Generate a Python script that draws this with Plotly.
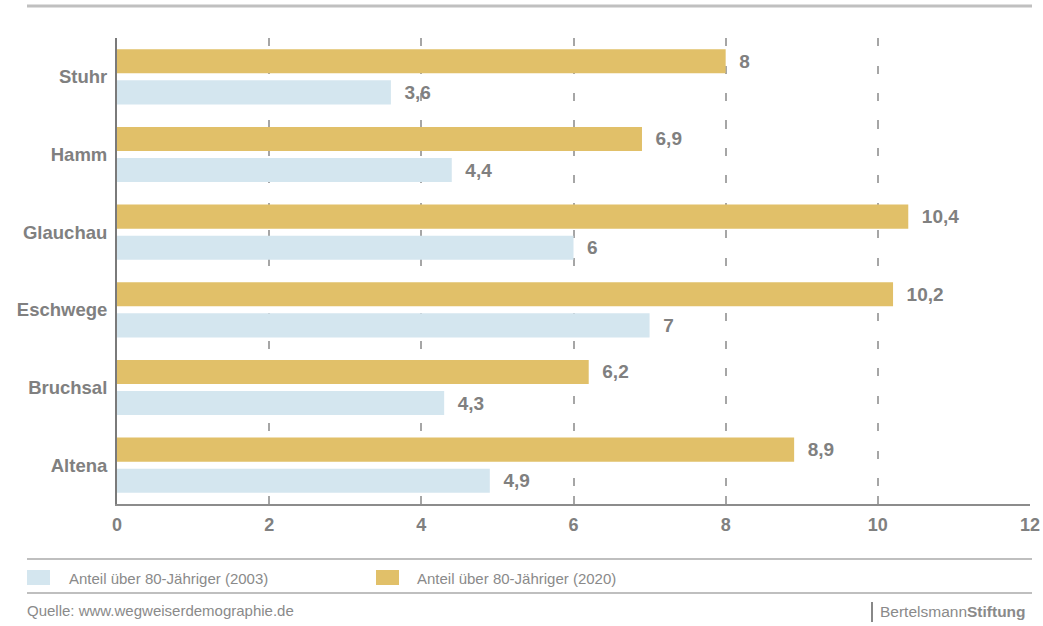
import plotly.graph_objects as go

# Data: share of residents aged 80+ (%), towns listed top to bottom
towns = ["Stuhr", "Hamm", "Glauchau", "Eschwege", "Bruchsal", "Altena"]
share_2003 = [3.6, 4.4, 6.0, 7.0, 4.3, 4.9]
share_2020 = [8.0, 6.9, 10.4, 10.2, 6.2, 8.9]
series_names = ["Anteil über 80-Jähriger (2003)", "Anteil über 80-Jähriger (2020)"]
x_ticks = [0, 2, 4, 6, 8, 10, 12]
source_text = "Quelle: www.wegweiserdemographie.de"

BLUE = "#d4e6ef"
GOLD = "#e1c069"
TEXT_GREY = "#808080"
GRID_GREY = "#a6a6a6"
FONT = "Liberation Sans, Arial, sans-serif"

W, H = 1043, 626
L, R, T, B = 117, 1030, 38, 504


def px(x):
    return (x - L) / (R - L)


def py(y):
    return (B - y) / (B - T)


def fmt(v):
    s = f"{v:g}".replace(".", ",")
    return "\u00a0\u00a0" + s


fig = go.Figure()
fig.add_trace(go.Bar(
    y=towns, x=share_2020, orientation="h", name=series_names[1],
    marker=dict(color=GOLD, line=dict(width=0)),
    text=[fmt(v) for v in share_2020], textposition="outside",
    textfont=dict(family=FONT, size=19, color=TEXT_GREY, weight="bold"),
    constraintext="none", cliponaxis=False, showlegend=False, hoverinfo="skip",
))
fig.add_trace(go.Bar(
    y=towns, x=share_2003, orientation="h", name=series_names[0],
    marker=dict(color=BLUE, line=dict(width=0)),
    text=[fmt(v) for v in share_2003], textposition="outside",
    textfont=dict(family=FONT, size=19, color=TEXT_GREY, weight="bold"),
    constraintext="none", cliponaxis=False, showlegend=False, hoverinfo="skip",
))

shapes = [
    # top rule
    dict(type="line", xref="paper", yref="paper", x0=px(27), x1=px(1032), y0=py(6), y1=py(6),
         line=dict(color="#c0c0c0", width=3)),
    # rules around the legend
    dict(type="line", xref="paper", yref="paper", x0=px(27), x1=px(1032), y0=py(559), y1=py(559),
         line=dict(color="#aaaaaa", width=1.5)),
    dict(type="line", xref="paper", yref="paper", x0=px(27), x1=px(1032), y0=py(593), y1=py(593),
         line=dict(color="#aaaaaa", width=1.5)),
    # legend swatches
    dict(type="rect", xref="paper", yref="paper", x0=px(27), x1=px(50), y0=py(585), y1=py(570),
         fillcolor=BLUE, line=dict(width=0)),
    dict(type="rect", xref="paper", yref="paper", x0=px(376), x1=px(399), y0=py(585), y1=py(570),
         fillcolor=GOLD, line=dict(width=0)),
    # logo separator
    dict(type="line", xref="paper", yref="paper", x0=px(872), x1=px(872), y0=py(602), y1=py(622),
         line=dict(color="#888888", width=2)),
]

annotations = [
    dict(xref="paper", yref="paper", x=px(67), y=py(578), xanchor="left", yanchor="middle",
         text=series_names[0], showarrow=False, font=dict(family=FONT, size=15, color="#8a8a8a")),
    dict(xref="paper", yref="paper", x=px(415), y=py(578), xanchor="left", yanchor="middle",
         text=series_names[1], showarrow=False, font=dict(family=FONT, size=15, color="#8a8a8a")),
    dict(xref="paper", yref="paper", x=px(25), y=py(610), xanchor="left", yanchor="middle",
         text=source_text, showarrow=False, font=dict(family=FONT, size=15, color="#8a8a8a")),
    dict(xref="paper", yref="paper", x=px(1028), y=py(611), xanchor="right", yanchor="middle",
         text="Bertelsmann<b>Stiftung</b>", showarrow=False,
         font=dict(family=FONT, size=15.5, color="#8a8a8a")),
]

fig.update_layout(
    width=W, height=H,
    margin=dict(l=L, r=W - R, t=T, b=H - B, pad=0, autoexpand=False),
    paper_bgcolor="white", plot_bgcolor="white",
    barmode="group", bargap=0.2, bargroupgap=0.226,
    font=dict(family=FONT, color=TEXT_GREY),
    shapes=shapes, annotations=annotations,
    showlegend=False,
)
fig.update_xaxes(
    range=[0, 12], tickvals=x_ticks, ticktext=[str(t) for t in x_ticks],
    showgrid=True, gridcolor=GRID_GREY, gridwidth=1.5, griddash="8px,19.5px",
    zeroline=False, showline=True, linecolor="#8c8c8c", linewidth=2,
    ticks="inside", ticklen=8, tickwidth=1.5, tickcolor=GRID_GREY,
    tickfont=dict(family=FONT, size=18, color=TEXT_GREY, weight="bold"),
    ticklabelstandoff=3, fixedrange=True, automargin=False,
)
fig.update_yaxes(
    autorange="reversed", categoryorder="array", categoryarray=towns,
    showgrid=False, zeroline=False, showline=True, linecolor="#7a7a7a", linewidth=2,
    ticks="", tickfont=dict(family=FONT, size=18.5, color=TEXT_GREY, weight="bold"),
    ticklabelstandoff=4, fixedrange=True, automargin=False,
)

fig.write_html("out.html", config={"displayModeBar": False})
